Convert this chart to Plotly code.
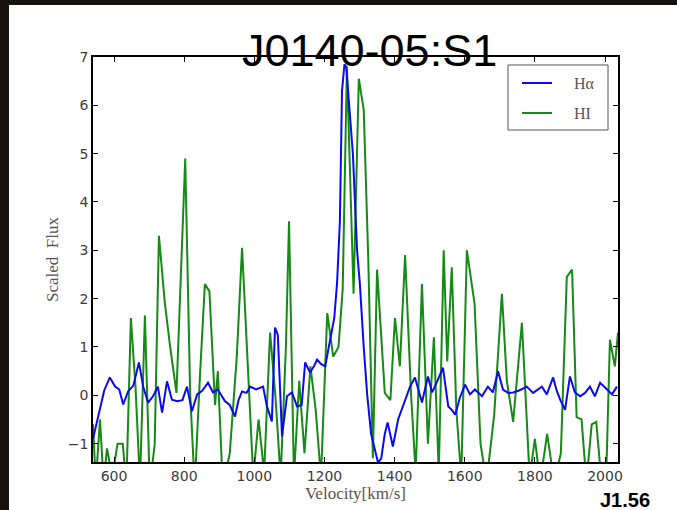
import plotly.graph_objects as go

# H-alpha spectrum (scaled flux vs. velocity)
ha_velocity = [540, 555, 572, 588, 603, 615, 626, 640, 655, 671, 683, 697, 711, 725, 737, 751,
               765, 780, 795, 808, 822, 837, 852, 868, 882, 896, 916, 930, 945, 955, 965, 978,
               988, 1005, 1015, 1025, 1036, 1050, 1059, 1067, 1079, 1093, 1107, 1122, 1135, 1145,
               1159, 1170, 1179, 1190, 1202, 1216, 1228, 1236, 1244, 1250, 1257, 1262, 1270, 1281,
               1293, 1301, 1312, 1322, 1333, 1345, 1353, 1362, 1372, 1380, 1395, 1410, 1424, 1444,
               1458, 1468, 1478, 1495, 1507, 1522, 1538, 1553, 1563, 1573, 1586, 1601, 1615, 1629,
               1649, 1666, 1680, 1695, 1709, 1724, 1738, 1755, 1777, 1795, 1806, 1820, 1834, 1852,
               1862, 1872, 1886, 1900, 1914, 1929, 1943, 1957, 1971, 1986, 2006, 2020, 2034]
ha_flux = [-0.9, -0.4, 0.1, 0.37, 0.18, 0.12, -0.19, 0.08, 0.2, 0.68, 0.18, -0.15, -0.02, 0.18, -0.36, 0.29,
           -0.09, -0.12, -0.1, 0.18, -0.33, 0.02, 0.1, 0.26, 0.06, 0.12, -0.12, -0.2, -0.44, -0.1, 0.08, 0.05,
           0.18, 0.12, 0.15, 0.18, -0.23, -0.54, 1.4, 1.25, -0.85, -0.02, 0.06, -0.23, -0.2, 0.68,
           0.47, 0.6, 0.74, 0.65, 0.6, 1.15, 1.6, 2.33, 3.6, 6.3, 6.85, 6.8, 6.0, 5.0,
           3.0, 2.3, 1.0, 0.0, -0.8, -1.2, -1.4, -1.3, -0.8, -0.56, -1.06, -0.5, -0.23, 0.18,
           0.37, 0.1, -0.15, 0.39, 0.06, 0.3, 0.57, -0.23, -0.3, -0.4, -0.05, 0.22, 0.02, 0.12,
           -0.02, 0.18, 0.06, 0.5, 0.12, 0.05, 0.06, 0.1, 0.18, 0.05, 0.1, 0.18, 0.02, 0.37,
           0.1, -0.09, -0.3, 0.39, 0.06, -0.02, 0.05, 0.18, -0.02, 0.26, 0.12, 0.02, 0.18]

# HI spectrum (scaled flux vs. velocity)
hi_velocity = [540, 548, 560, 570, 580, 595, 610, 625, 635, 648, 661, 674, 688, 702, 716, 728,
               745, 760, 778, 803, 817, 830, 845, 859, 872, 888, 896, 910, 930, 950, 965, 985,
               997, 1012, 1028, 1045, 1060, 1075, 1090, 1099, 1113, 1128, 1143, 1160, 1175, 1190,
               1208, 1225, 1240, 1252, 1264, 1283, 1298, 1312, 1325, 1338, 1350, 1372, 1388, 1401,
               1415, 1430, 1447, 1460, 1478, 1495, 1512, 1526, 1540, 1550, 1563, 1576, 1590, 1606,
               1628, 1645, 1662, 1684, 1706, 1720, 1738, 1763, 1785, 1800, 1815, 1835, 1855, 1874,
               1891, 1906, 1919, 1933, 1947, 1962, 1975, 1990, 2003, 2014, 2028, 2037]
hi_flux = [-0.6, -1.8, -0.5, -1.8, -1.1, -1.7, -1.0, -1.0, -1.9, 1.6, 0.2, -1.8, 1.65, -1.9, -1.0, 3.3,
           1.9, 1.0, 0.05, 4.9, 0.05, -1.9, 0.4, 2.3, 2.15, -0.2, 0.5, -1.9, -1.2, 0.8, 3.05, 0.1,
           -1.7, -0.5, -1.6, 1.3, 0.0, -1.7, 1.0, 3.6, -1.7, 0.3, -1.2, 0.6, -0.3, -1.7,
           1.7, 0.8, 1.0, 2.2, 6.8, 2.1, 6.55, 5.9, 2.8, -1.3, 2.6, 0.05, -0.1, 1.6,
           0.6, 2.9, 0.0, -1.6, 2.3, -1.0, 1.2, -1.6, 3.0, 0.7, 2.65, -0.3, -1.7, 3.0,
           1.9, -1.0, -1.8, -0.4, 2.1, 0.3, -0.55, 1.5, -1.7, -0.9, -1.8, -0.8, -1.8, -1.2,
           2.45, 2.6, -0.45, -0.5, -1.8, -0.6, -0.55, -1.8, -1.8, 1.15, 0.6, 1.3]

x_ticks = [600, 800, 1000, 1200, 1400, 1600, 1800, 2000]
y_ticks = [-1, 0, 1, 2, 3, 4, 5, 6, 7]
x_range = [540, 2037]
y_range = [-1.38, 7]

series_names = ["H\u03b1", "HI"]
series_colors = ["#0a0af0", "#168a16"]

W, H = 677, 510
L, R, T, B = 93, 59, 57, 48
PW, PH = W - L - R, H - T - B


def px_x(px):
    return (px - L) / PW


def px_y(py):
    return (H - B - py) / PH


fig = go.Figure()
fig.add_trace(go.Scatter(x=hi_velocity, y=hi_flux, mode="lines", name=series_names[1],
                         line=dict(color=series_colors[1], width=2), showlegend=False))
fig.add_trace(go.Scatter(x=ha_velocity, y=ha_flux, mode="lines", name=series_names[0],
                         line=dict(color=series_colors[0], width=2), showlegend=False))

tick_font = dict(family="DejaVu Sans", size=14, color="#3c3c3c")
serif_font = dict(family="Liberation Serif", size=17, color="#555555")

fig.update_xaxes(range=x_range, tickvals=x_ticks, ticks="inside", ticklen=5, tickcolor="black",
                 showline=True, linecolor="black", linewidth=1.5, mirror="ticks",
                 showgrid=False, zeroline=False, tickfont=tick_font,
                 title=dict(text="Velocity[km/s]", font=serif_font, standoff=4))
fig.update_yaxes(range=y_range, tickvals=y_ticks, ticks="inside", ticklen=5, tickcolor="black",
                 showline=True, linecolor="black", linewidth=1.5, mirror="ticks",
                 showgrid=False, zeroline=False, tickfont=tick_font,
                 title=dict(text="Scaled  Flux", font=serif_font, standoff=5))

shapes = [
    # white slide panel behind the chart
    dict(type="rect", xref="paper", yref="paper", layer="below",
         x0=px_x(9), x1=px_x(W + 2), y0=px_y(H + 2), y1=px_y(5),
         fillcolor="white", line=dict(width=0)),
    # legend frame
    dict(type="rect", xref="paper", yref="paper",
         x0=px_x(508), x1=px_x(608), y0=px_y(130), y1=px_y(65),
         fillcolor="white", line=dict(color="#555555", width=1)),
]
annotations = []
for i, (name, color) in enumerate(zip(series_names, series_colors)):
    yy = px_y(83 + 30 * i)
    shapes.append(dict(type="line", xref="paper", yref="paper",
                       x0=px_x(522), x1=px_x(552), y0=yy, y1=yy,
                       line=dict(color=color, width=2)))
    annotations.append(dict(text=name, xref="paper", yref="paper", x=px_x(572), y=yy,
                            xanchor="left", yanchor="middle", showarrow=False,
                            font=dict(family="Liberation Serif", size=16, color="#555555")))

annotations.append(dict(text="J0140-05:S1", xref="paper", yref="paper", x=px_x(369), y=px_y(50),
                        xanchor="center", yanchor="middle", showarrow=False,
                        font=dict(family="Liberation Sans", size=45, color="black")))
annotations.append(dict(text="<b>J1.56</b>", xref="paper", yref="paper", x=px_x(598), y=px_y(500),
                        xanchor="left", yanchor="middle", showarrow=False,
                        font=dict(family="Liberation Sans", size=20, color="black")))

fig.update_layout(
    width=W, height=H,
    margin=dict(l=L, r=R, t=T, b=B, autoexpand=False),
    paper_bgcolor="#18120e",
    plot_bgcolor="white",
    shapes=shapes,
    annotations=annotations,
    showlegend=False,
)

fig.write_html("out.html")
